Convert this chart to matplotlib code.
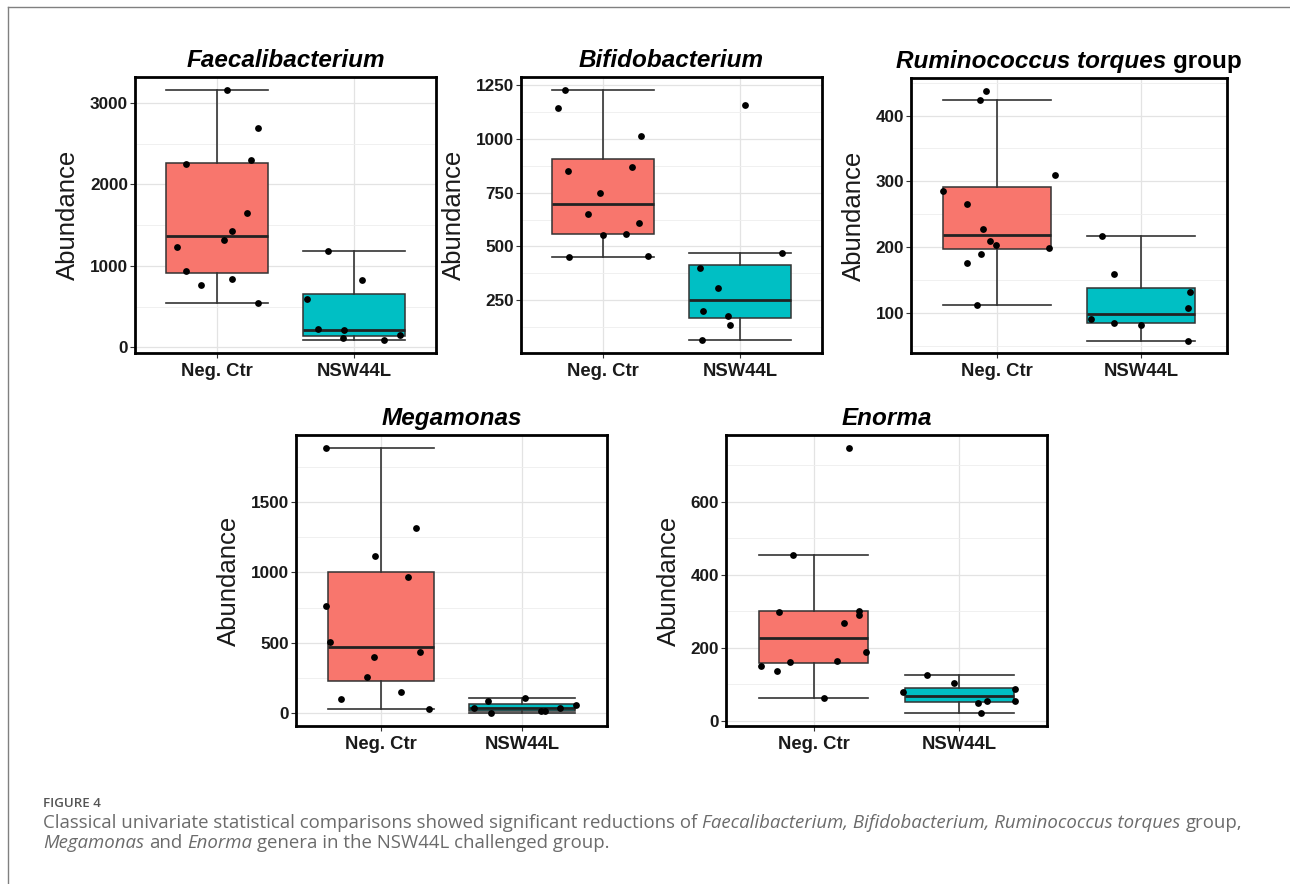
import matplotlib
matplotlib.use("Agg")
import matplotlib.pyplot as plt
import numpy as np
from matplotlib.ticker import MultipleLocator, AutoMinorLocator
from matplotlib.lines import Line2D

plt.rcParams['font.family'] = ['Liberation Sans', 'DejaVu Sans']

# ---------------- data ----------------
groups = ["Neg. Ctr", "NSW44L"]
fill_colors = ["#F8766D", "#00BFC4"]

faecali_neg = [3165, 2694, 2247, 2296, 1648, 1427, 1320, 1230, 939, 763, 836, 541]
faecali_nsw = [1189, 828, 594, 221, 209, 115, 86, 152]

bifido_neg = [1231, 1146, 1013, 851, 870, 748, 652, 610, 554, 557, 451, 457]
bifido_nsw = [1160, 468, 398, 305, 200, 178, 133, 62]

rumino_neg = [438, 423, 310, 285, 266, 227, 210, 203, 199, 189, 176, 112]
rumino_nsw = [217, 159, 131, 108, 90, 85, 82, 58]

mega_neg = [1884, 1319, 1114, 971, 760, 503, 436, 398, 253, 153, 98, 31]
mega_nsw = [86, 105, 60, 33, 37, 2, 13, 15]

enorma_neg = [747, 454, 299, 302, 290, 268, 188, 162, 164, 149, 137, 63]
enorma_nsw = [126, 103, 80, 87, 54, 49, 53, 22]

# horizontal jitter of the individual points (in category units)
faecali_neg_jit = [0.07, 0.30, -0.23, 0.25, 0.22, 0.11, 0.05, -0.29, -0.23, -0.12, 0.11, 0.30]
faecali_nsw_jit = [-0.19, 0.06, -0.34, -0.26, -0.07, -0.08, 0.22, 0.34]
bifido_neg_jit = [-0.28, -0.33, 0.28, -0.26, 0.21, -0.02, -0.11, 0.26, 0.0, 0.17, -0.25, 0.33]
bifido_nsw_jit = [0.04, 0.31, -0.29, -0.16, -0.27, -0.09, -0.07, -0.28]
rumino_neg_jit = [-0.08, -0.12, 0.40, -0.38, -0.21, -0.10, -0.05, -0.01, 0.36, -0.11, -0.21, -0.14]
rumino_nsw_jit = [-0.27, -0.19, 0.34, 0.33, -0.35, -0.19, 0.0, 0.33]
mega_neg_jit = [-0.39, 0.25, -0.04, 0.19, -0.39, -0.36, 0.28, -0.05, -0.10, 0.14, -0.28, 0.34]
mega_nsw_jit = [-0.24, 0.02, 0.38, -0.34, 0.27, -0.22, 0.13, 0.16]
enorma_neg_jit = [0.24, -0.14, -0.24, 0.31, 0.31, 0.21, 0.36, -0.16, 0.16, -0.36, -0.25, 0.07]
enorma_nsw_jit = [-0.22, -0.04, -0.39, 0.38, 0.38, 0.13, 0.19, 0.15]

# ---------------- figure ----------------
W, H = 1290, 884
fig = plt.figure(figsize=(W / 100, H / 100), dpi=100)
fig.patch.set_facecolor("white")
renderer = fig.canvas.get_renderer()

panels = [
    dict(title=[("Faecalibacterium", "italic")], data=(faecali_neg, faecali_nsw),
         jit=(faecali_neg_jit, faecali_nsw_jit), rect=(135, 77, 436, 353), step=1000),
    dict(title=[("Bifidobacterium", "italic")], data=(bifido_neg, bifido_nsw),
         jit=(bifido_neg_jit, bifido_nsw_jit), rect=(521, 77, 822, 353), step=250),
    dict(title=[("Ruminococcus torques", "italic"), (" group", "normal")], data=(rumino_neg, rumino_nsw),
         jit=(rumino_neg_jit, rumino_nsw_jit), rect=(911, 78, 1227, 353), step=100),
    dict(title=[("Megamonas", "italic")], data=(mega_neg, mega_nsw),
         jit=(mega_neg_jit, mega_nsw_jit), rect=(296, 435, 607, 726), step=500),
    dict(title=[("Enorma", "italic")], data=(enorma_neg, enorma_nsw),
         jit=(enorma_neg_jit, enorma_nsw_jit), rect=(726, 435, 1047, 726), step=200),
]


def space_width(size, style, weight, family):
    a = fig.text(0, 0, "n n", fontsize=size, fontstyle=style, fontweight=weight, family=family)
    b = fig.text(0, 0, "nn", fontsize=size, fontstyle=style, fontweight=weight, family=family)
    w = a.get_window_extent(renderer).width - b.get_window_extent(renderer).width
    a.remove()
    b.remove()
    return w


def place_runs(runs, x_px, base_px, size, color, weight="normal", family=None, center=False,
               measure_only=False):
    """Lay out text runs with different styles on one baseline."""
    items = []
    for s, style in runs:
        core = s.strip()
        lead = len(s) - len(s.lstrip())
        trail = len(s) - len(s.rstrip())
        sp = space_width(size, style, weight, family)
        t = fig.text(0, 1 - base_px / H, core, fontsize=size, fontstyle=style,
                     fontweight=weight, color=color, ha="left", va="baseline", family=family)
        w = t.get_window_extent(renderer).width
        items.append((t, lead * sp, w, trail * sp))
    total = sum(l + w + r for _, l, w, r in items)
    if measure_only:
        for t, *_ in items:
            t.remove()
        return total
    x = x_px - total / 2 if center else x_px
    for t, l, w, r in items:
        x += l
        t.set_x(x / W)
        x += w + r
    return total


for p in panels:
    l, t, r, b = p["rect"]
    ax = fig.add_axes([l / W, 1 - b / H, (r - l) / W, (b - t) / H])
    ax.set_facecolor("white")
    neg, nsw = p["data"]
    jn, js = p["jit"]

    bp = ax.boxplot([neg, nsw], positions=[1, 2], widths=0.75, whis=1.5, showfliers=False,
                    patch_artist=True, capwidths=0.75,
                    boxprops=dict(edgecolor="#333333", linewidth=1.1),
                    medianprops=dict(color="#222222", linewidth=2.0),
                    whiskerprops=dict(color="#333333", linewidth=1.2),
                    capprops=dict(color="#333333", linewidth=1.2))
    for patch, c in zip(bp["boxes"], fill_colors):
        patch.set_facecolor(c)
        patch.set_zorder(2)
    for key in ("whiskers", "caps", "medians"):
        for ln in bp[key]:
            ln.set_zorder(2.5)

    ax.scatter(1 + np.asarray(jn), neg, s=24, color="black", zorder=4, linewidths=0)
    ax.scatter(2 + np.asarray(js), nsw, s=24, color="black", zorder=4, linewidths=0)

    allv = np.concatenate([neg, nsw])
    lo, hi = allv.min(), allv.max()
    pad = 0.05 * (hi - lo)
    ax.set_ylim(lo - pad, hi + pad)
    ax.set_xlim(0.4, 2.6)

    ax.yaxis.set_major_locator(MultipleLocator(p["step"]))
    ax.yaxis.set_minor_locator(AutoMinorLocator(2))
    ax.set_xticks([1, 2])
    ax.set_xticklabels(groups)
    ax.set_axisbelow(True)
    ax.grid(which="major", color="#e3e3e3", linewidth=0.9)
    ax.grid(which="minor", axis="y", color="#eeeeee", linewidth=0.6)
    ax.tick_params(which="minor", length=0)
    ax.tick_params(axis="both", which="major", length=3.5, width=0.8, color="#333333",
                   labelcolor="#1a1a1a")
    ax.tick_params(axis="y", labelsize=12.3, pad=1.5)
    ax.tick_params(axis="x", labelsize=13.3, pad=4)
    for lbl in ax.get_xticklabels() + ax.get_yticklabels():
        lbl.set_fontweight("bold")
    for s in ax.spines.values():
        s.set_linewidth(2.0)
        s.set_color("black")

    ax.set_ylabel("Abundance", fontsize=18.5, color="#1a1a1a", labelpad=7)

    place_runs(p["title"], (l + r) / 2, t - 10, 17.5, "black", weight="bold", center=True)

# frame lines around the figure panel
fig.add_artist(Line2D([8 / W, 1], [1 - 7 / H, 1 - 7 / H], transform=fig.transFigure,
                      color="#808080", linewidth=1.0))
fig.add_artist(Line2D([8 / W, 8 / W], [0, 1 - 7 / H], transform=fig.transFigure,
                      color="#808080", linewidth=1.0))

# caption
cap_family = ["Open Sans", "DejaVu Sans"]
line1 = [("Classical univariate statistical comparisons showed significant reductions of ", "normal"),
         ("Faecalibacterium, Bifidobacterium, Ruminococcus torques", "italic"),
         (" group,", "normal")]
line2 = [("Megamonas", "italic"), (" and ", "normal"), ("Enorma", "italic"),
         (" genera in the NSW44L challenged group.", "normal")]

# size the caption so that the first line spans the text column
w10 = place_runs(line1, 0, 0, 10, "#000000", family=cap_family, measure_only=True)
cap_size = 10 * 1197 / w10

place_runs([("FIGURE 4", "normal")], 43, 807, 9.6, "#555555", weight="semibold", family=cap_family)
place_runs(line1, 43, 828, cap_size, "#6b6b6b", family=cap_family)
place_runs(line2, 43, 848, cap_size, "#6b6b6b", family=cap_family)

fig.savefig("out.png", dpi=100, facecolor="white")
